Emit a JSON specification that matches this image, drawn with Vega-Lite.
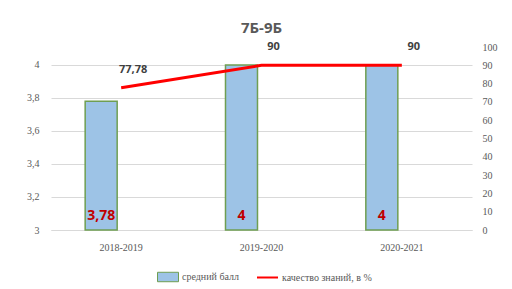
{
  "$schema": "https://vega.github.io/schema/vega-lite/v6.json",
  "width": 421,
  "height": 183,
  "padding": {"left": 26, "top": 21, "right": 5, "bottom": 5},
  "background": "white",
  "title": {"text": "7Б-9Б", "fontSize": 15, "font": "Open Sans", "fontWeight": "bold", "color": "#595959", "offset": 5, "anchor": "middle"},
  "data": {"values": [
    {"year": "2018-2019", "score": 3.78, "quality": 77.78},
    {"year": "2019-2020", "score": 4, "quality": 90},
    {"year": "2020-2021", "score": 4, "quality": 90}
  ]},
  "encoding": {
    "x": {"field": "year", "type": "nominal", "scale": {"paddingInner": 0, "paddingOuter": 0},
      "axis": {"title": null, "labelAngle": 0, "ticks": false, "domainColor": "#d9d9d9", "labelFont": "Liberation Serif", "labelFontSize": 10, "labelColor": "#595959", "labelPadding": 12}}
  },
  "layer": [
    {
      "encoding": {
        "y": {"field": "score", "type": "quantitative", "scale": {"domain": [3, 4.109], "nice": false, "zero": false},
          "axis": {"title": null, "values": [3, 3.2, 3.4, 3.6, 3.8, 4], "format": "~g", "grid": true, "gridColor": "#d9d9d9", "domain": false, "ticks": false, "labelFont": "Liberation Serif", "labelFontSize": 10, "labelColor": "#595959", "labelPadding": 12}}
      },
      "layer": [
        {
          "mark": {"type": "bar", "stroke": "#6f9e52", "strokeWidth": 1.5},
          "encoding": {
            "y2": {"datum": 3},
            "xOffset": {"datum": "средний балл", "scale": {"domain": ["средний балл", "качество знаний, в %"], "paddingInner": 0.2, "paddingOuter": 0.854}},
            "fill": {"datum": "средний балл", "scale": {"range": ["#9dc3e6"]},
              "legend": {"orient": "none", "legendX": 106, "legendY": 219, "padding": 0, "title": null, "symbolType": "M-1,-0.45L1,-0.45L1,0.45L-1,0.45Z", "symbolSize": 441, "symbolStrokeColor": "#6f9e52", "symbolStrokeWidth": 1, "symbolOpacity": 1}}
          }
        },
        {
          "mark": {"type": "text", "baseline": "bottom", "dy": -7, "fontSize": 14, "fontWeight": "bold", "font": "Open Sans", "color": "#c00000"},
          "encoding": {
            "xOffset": {"datum": "средний балл", "scale": {"domain": ["средний балл", "качество знаний, в %"], "paddingInner": 0.2, "paddingOuter": 0.854}},
            "y": {"datum": 3, "type": "quantitative"},
            "text": {"field": "score", "type": "quantitative", "format": ".2~f"}
          }
        }
      ]
    },
    {
      "encoding": {
        "y": {"field": "quality", "type": "quantitative", "scale": {"domain": [0, 100], "nice": false},
          "axis": {"orient": "right", "title": null, "values": [0, 10, 20, 30, 40, 50, 60, 70, 80, 90, 100], "grid": false, "domain": false, "ticks": false, "labelFont": "Liberation Serif", "labelFontSize": 10, "labelColor": "#595959", "labelPadding": 10}}
      },
      "layer": [
        {
          "mark": {"type": "line", "strokeWidth": 3},
          "encoding": {
            "stroke": {"datum": "качество знаний, в %", "scale": {"range": ["#ff0000"]},
              "legend": {"orient": "none", "legendX": 205, "legendY": 219, "padding": 0, "title": null, "symbolType": "stroke", "symbolSize": 441, "symbolStrokeWidth": 2}}
          }
        },
        {
          "mark": {"type": "text", "dx": 12, "dy": -18, "fontSize": 11, "fontWeight": "bold", "font": "Open Sans", "color": "#404040"},
          "encoding": {
            "text": {"field": "quality", "type": "quantitative", "format": ".2~f"}
          }
        }
      ]
    }
  ],
  "resolve": {"scale": {"y": "independent"}},
  "config": {
    "locale": {"number": {"decimal": ",", "thousands": " ", "grouping": [3], "currency": ["", ""]}},
    "view": {"stroke": null},
    "legend": {"labelFont": "Liberation Serif", "labelFontSize": 10, "labelColor": "#595959", "labelOffset": 3}
  }
}
